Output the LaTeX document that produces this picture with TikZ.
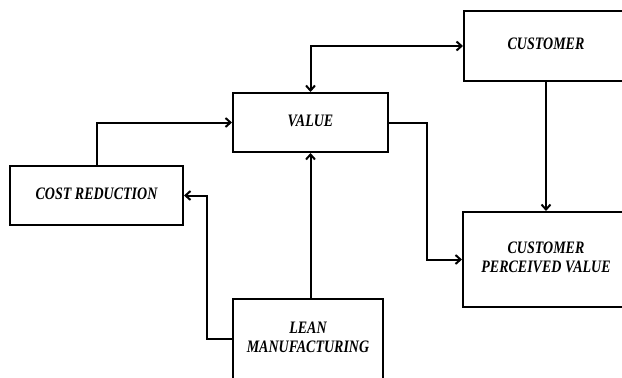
\documentclass[tikz,border=0pt]{standalone}
\usepackage{fontspec}
\setmainfont{Liberation Serif}
\usetikzlibrary{arrows.meta}
\newcommand{\boxtext}[1]{\scalebox{0.8}[1]{\fontsize{17.5}{19}\selectfont\bfseries\itshape
  \begin{tabular}{@{}c@{}}#1\end{tabular}}}
\tikzset{
  tip/.tip={Straight Barb[length=5pt,width=9pt,line width=2pt]},
  blk/.style={draw=black, line width=2pt, fill=white, rectangle, inner sep=0pt},
  link/.style={draw=black, line width=2pt, -tip},
}
\begin{document}
\begin{tikzpicture}[x=1pt,y=-1pt]
\useasboundingbox (0,0) rectangle (622,378);
\clip (0,0) rectangle (622,378);
\fill[white] (0,0) rectangle (622,378);

% blocks
\node[blk, minimum width=164pt, minimum height=70pt] (customer) at (546,46) {\boxtext{CUSTOMER}};
\node[blk, minimum width=155pt, minimum height=59pt] (value) at (310.5,122.5) {\boxtext{VALUE}};
\node[blk, minimum width=173pt, minimum height=59pt] (cost) at (96.5,195.5) {\boxtext{COST REDUCTION}};
\node[blk, minimum width=166pt, minimum height=95pt] (cpv) at (546,259.5) {\boxtext{CUSTOMER\\PERCEIVED VALUE}};
\node[blk, minimum width=150pt, minimum height=80pt] (lean) at (308,339) {\boxtext{LEAN\\MANUFACTURING}};

% connectors
\draw[link, tip-tip] (value.north) |- (customer.west);
\draw[link] (cost.north) |- (value.west);
\draw[link] (value.south |- lean.north) -- (value.south);
\draw[link] (lean.west) -- ++(-25,0) |- (cost.east);
\draw[link] (value.east) -- ++(38,0) |- (cpv.west);
\draw[link] (customer.south) -- (cpv.north);
\end{tikzpicture}
\end{document}
